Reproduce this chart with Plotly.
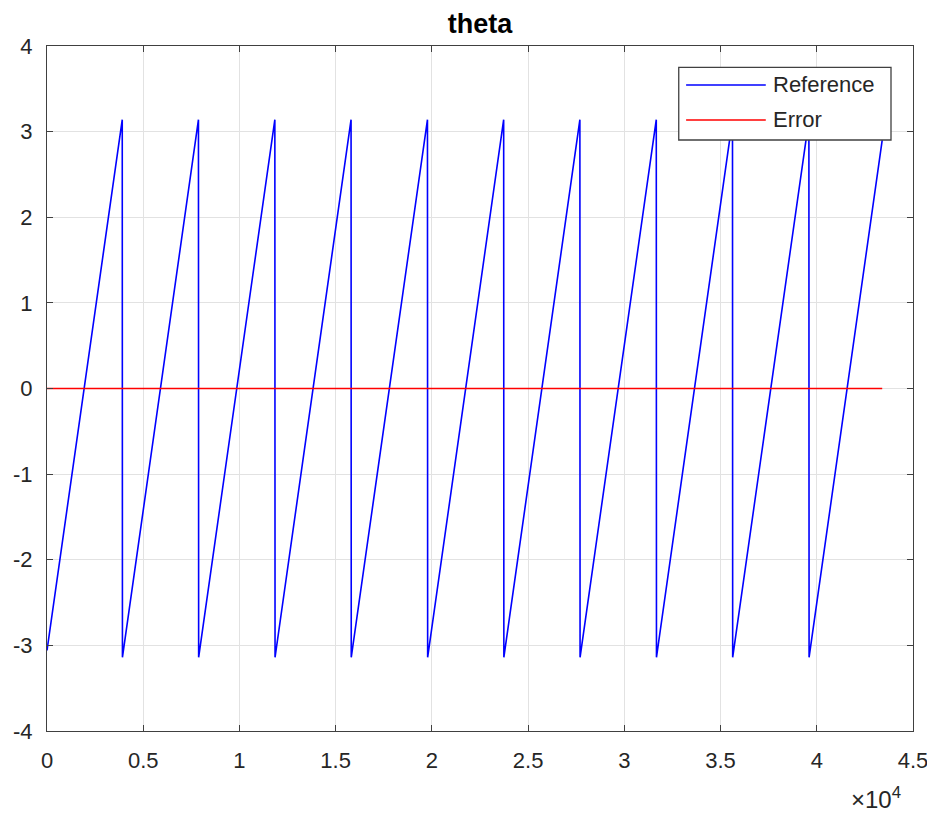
import plotly.graph_objects as go

# ---- data ----
ref_time = [0, 3910, 3920, 7870, 7880, 11840, 11850, 15800, 15810, 19770, 19780,
            23730, 23740, 27690, 27700, 31660, 31670, 35620, 35630, 39590, 39600, 43400]
ref_theta = [-3.06, 3.14, -3.14, 3.14, -3.14, 3.14, -3.14, 3.14, -3.14, 3.14, -3.14,
             3.14, -3.14, 3.14, -3.14, 3.14, -3.14, 3.14, -3.14, 3.14, -3.14, 2.90]
err_time = [0, 43400]
err_value = [0, 0]

x_tick_vals = [0, 5000, 10000, 15000, 20000, 25000, 30000, 35000, 40000, 45000]
x_tick_text = ["0", "0.5", "1", "1.5", "2", "2.5", "3", "3.5", "4", "4.5"]
y_tick_vals = [-4, -3, -2, -1, 0, 1, 2, 3, 4]
y_tick_text = ["-4", "-3", "-2", "-1", "0", "1", "2", "3", "4"]
legend_names = ["Reference", "Error"]

FONT = "Liberation Sans, Arial, Helvetica, sans-serif"
AX = "#262626"

fig = go.Figure()
fig.add_trace(go.Scatter(x=ref_time, y=ref_theta, mode="lines",
                         line=dict(color="#0000ff", width=1.6),
                         name=legend_names[0], showlegend=False))
fig.add_trace(go.Scatter(x=err_time, y=err_value, mode="lines",
                         line=dict(color="#ff0000", width=1.6),
                         name=legend_names[1], showlegend=False))

axis_common = dict(showline=True, linecolor="#404040", linewidth=1.3, mirror="ticks",
                   ticks="inside", ticklen=6, tickcolor="#404040", tickwidth=1.3,
                   showgrid=True, gridcolor="#e2e2e2", gridwidth=1, zeroline=False,
                   automargin=False,
                   tickfont=dict(family=FONT, size=22, color=AX))

fig.update_xaxes(range=[0, 45000], tickvals=x_tick_vals, ticktext=x_tick_text,
                 ticklabelstandoff=9, **axis_common)
fig.update_yaxes(range=[-4, 4], tickvals=y_tick_vals, ticktext=y_tick_text,
                 ticklabelstandoff=9, **axis_common)

# manual MATLAB-style legend box
L = dict(x0=0.7295, x1=0.9746, y0=0.8628, y1=0.9689)
shapes = [
    dict(type="rect", xref="paper", yref="paper", **L,
         fillcolor="white", line=dict(color="#404040", width=1.3), layer="above"),
    dict(type="line", xref="paper", yref="paper", x0=0.738, x1=0.830, y0=0.9431, y1=0.9431,
         line=dict(color="#0000ff", width=1.6), layer="above"),
    dict(type="line", xref="paper", yref="paper", x0=0.738, x1=0.830, y0=0.8920, y1=0.8920,
         line=dict(color="#ff0000", width=1.6), layer="above"),
]
annotations = [
    dict(xref="paper", yref="paper", x=0.836, y=0.9431, text=legend_names[0],
         xanchor="left", yanchor="middle", showarrow=False,
         font=dict(family=FONT, size=22, color=AX)),
    dict(xref="paper", yref="paper", x=0.836, y=0.8920, text=legend_names[1],
         xanchor="left", yanchor="middle", showarrow=False,
         font=dict(family=FONT, size=22, color=AX)),
    dict(xref="paper", yref="paper", x=0.926, y=-0.098, text="×10<sup>4</sup>",
         xanchor="left", yanchor="middle", showarrow=False,
         font=dict(family=FONT, size=24, color=AX)),
]

# the page adds an 8px body margin, so the figure is sized to fit the window
fig.update_layout(
    width=927, height=808,
    margin=dict(l=39, r=22, t=38, b=85, autoexpand=False),
    paper_bgcolor="white", plot_bgcolor="white",
    title=dict(text="<b>theta</b>", x=0.5, xref="paper", y=1 - 16 / 808,
               yanchor="middle", xanchor="center",
               font=dict(family=FONT, size=27, color="#000000")),
    shapes=shapes, annotations=annotations, showlegend=False,
)

fig.write_html("out.html")
